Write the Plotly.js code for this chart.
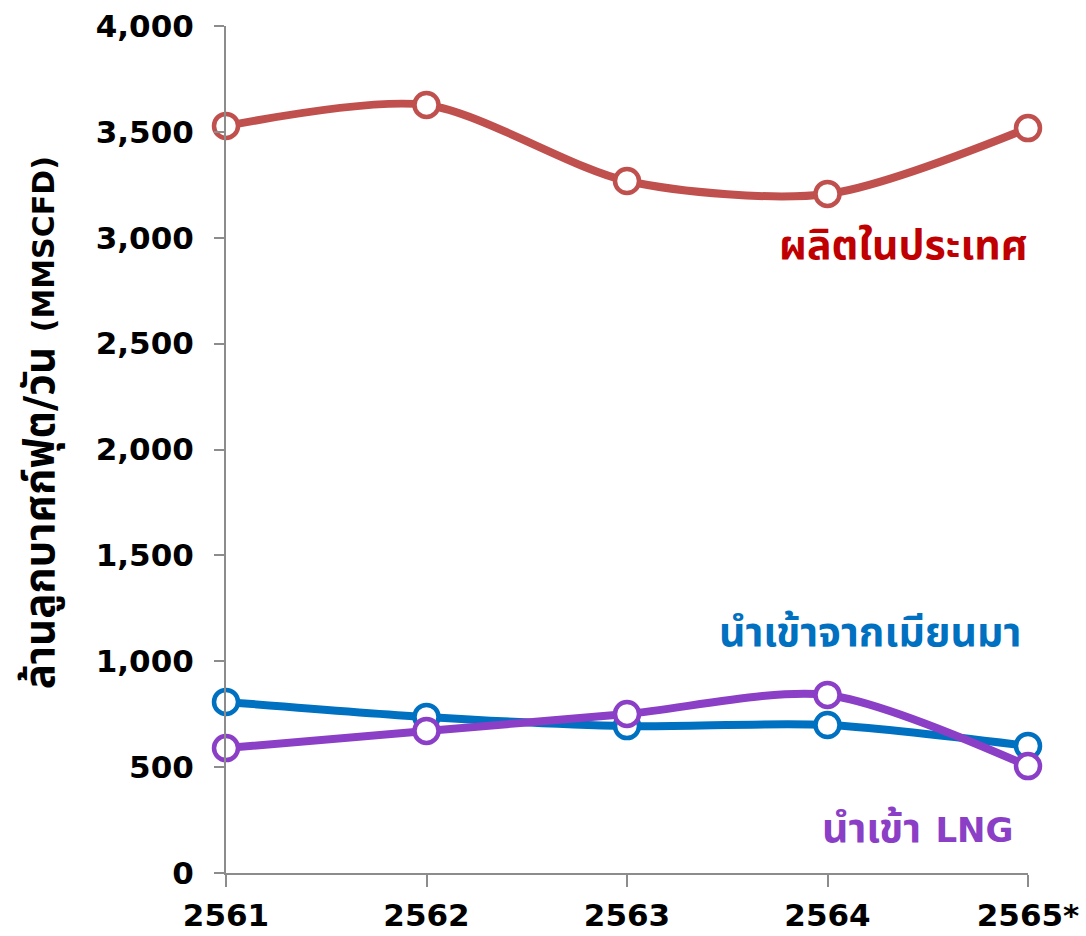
<!DOCTYPE html>
<html>
<head>
<meta charset="utf-8">
<script src="https://cdn.plot.ly/plotly-3.0.1.min.js"></script>
<style>html,body{margin:0;padding:0;background:#fff;}#chart{width:1086px;height:936px;}</style>
</head>
<body>
<div id="chart"></div>
<script>
const years = ["2561", "2562", "2563", "2564", "2565*"];
const domestic = [3528, 3627, 3268, 3207, 3518];
const myanmar = [808, 737, 694, 699, 600];
const lng = [590, 671, 751, 841, 505];
const yTicks = [0, 500, 1000, 1500, 2000, 2500, 3000, 3500, 4000];
const yTickText = ["0", "500", "1,000", "1,500", "2,000", "2,500", "3,000", "3,500", "4,000"];

const FONT = "'DejaVu Sans', Verdana, 'Noto Sans Thai', sans-serif";

function series(y, color) {
  return {
    x: years, y: y, type: "scatter", mode: "lines+markers",
    line: {color: color, width: 8, shape: "spline", smoothing: 0.8},
    marker: {symbol: "circle", size: 24, color: "#ffffff", line: {color: color, width: 4.5}},
    cliponaxis: false, hoverinfo: "skip"
  };
}

const data = [
  series(domestic, "#C0504D"),
  series(myanmar, "#0070C0"),
  series(lng, "#8B3FC6")
];

function sized(t, size) { return "<span style='font-size:" + size + "px'>" + t + "</span>"; }

const layout = {
  width: 1086, height: 936,
  margin: {l: 226, r: 58, t: 26, b: 63},
  paper_bgcolor: "#ffffff", plot_bgcolor: "#ffffff",
  showlegend: false,
  font: {family: FONT, size: 30, color: "#000000"},
  xaxis: {
    type: "category", range: [0, 4], showgrid: false, zeroline: false,
    showline: true, linecolor: "#8c8c8c", linewidth: 2,
    ticks: "outside", ticklen: 12, tickcolor: "#8c8c8c", tickwidth: 2,
    ticklabelstandoff: 2,
    tickfont: {family: FONT, size: 31, color: "#000", weight: "bold"}
  },
  yaxis: {
    range: [0, 4000], showgrid: false, zeroline: false,
    showline: true, linecolor: "#8c8c8c", linewidth: 2,
    ticks: "outside", ticklen: 10, tickcolor: "#8c8c8c", tickwidth: 2,
    tickvals: yTicks, ticktext: yTickText,
    ticklabelstandoff: 14,
    tickfont: {family: FONT, size: 31, color: "#000", weight: "bold"}
  },
  annotations: [
    {xref: "paper", yref: "paper", x: -0.232, y: 0.532, xanchor: "center", yanchor: "middle", showarrow: false,
     text: "<b>ล้านลูกบาศก์ฟุต/วัน " + sized("(MMSCFD)", 30) + "</b>", textangle: -90,
     font: {family: FONT, size: 42, color: "#000"}},
    {xref: "paper", yref: "paper", x: 0.845, y: 0.741, xanchor: "center", yanchor: "middle", showarrow: false,
     text: "<b>ผลิตในประเทศ</b>", font: {family: FONT, size: 41, color: "#C00000"}},
    {xref: "paper", yref: "paper", x: 0.803, y: 0.2845, xanchor: "center", yanchor: "middle", showarrow: false,
     text: "<b>นำเข้าจากเมียนมา</b>", font: {family: FONT, size: 41, color: "#0070C0"}},
    {xref: "paper", yref: "paper", x: 0.862, y: 0.053, xanchor: "center", yanchor: "middle", showarrow: false,
     text: "<b>นำเข้า " + sized("LNG", 34) + "</b>", font: {family: FONT, size: 41, color: "#8B3FC6"}}
  ]
};

Plotly.newPlot("chart", data, layout, {displayModeBar: false, staticPlot: true});
</script>
</body>
</html>
